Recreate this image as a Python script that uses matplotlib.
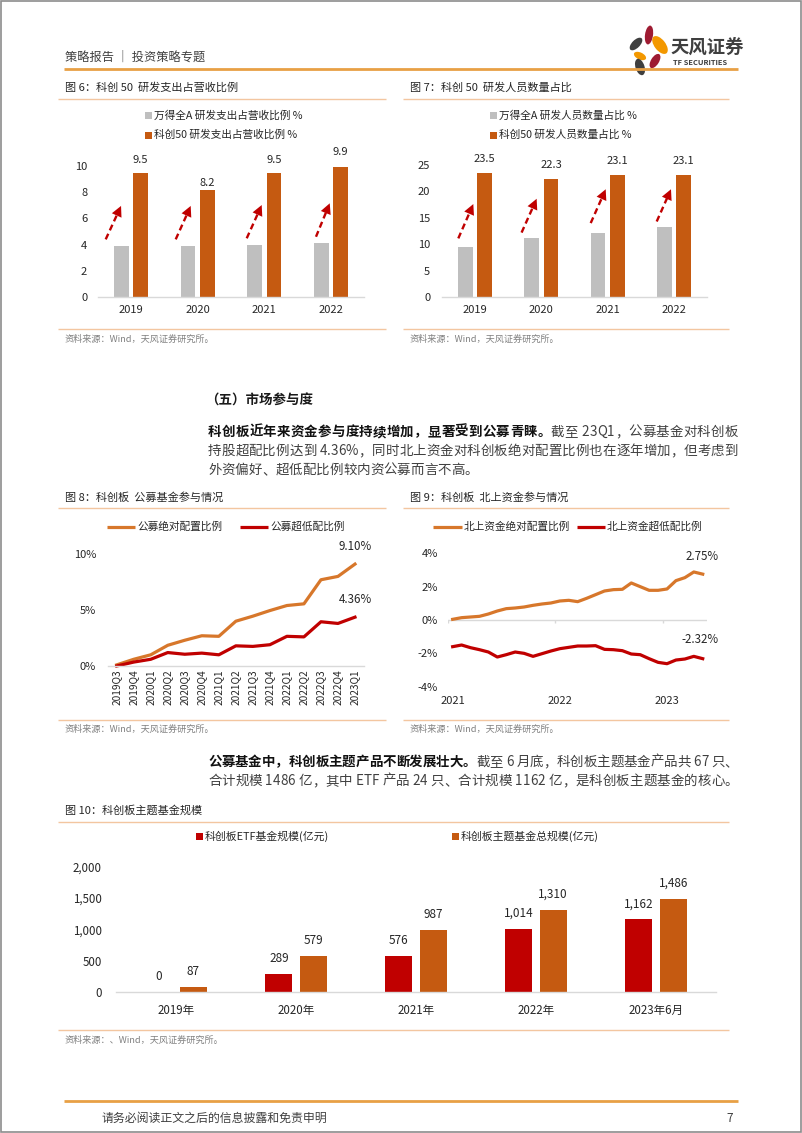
import matplotlib
matplotlib.use('Agg')
import matplotlib.pyplot as plt
from matplotlib.patches import Ellipse, Rectangle
import numpy as np

FAM = ['Noto Sans CJK SC', 'DejaVu Sans']
plt.rcParams['font.family'] = FAM

# ---------------- data ----------------
years = ['2019', '2020', '2021', '2022']
wind_rd_exp = [3.9, 3.9, 4.0, 4.1]
star50_rd_exp = [9.5, 8.2, 9.5, 9.9]
wind_rd_staff = [9.5, 11.1, 12.1, 13.2]
star50_rd_staff = [23.5, 22.3, 23.1, 23.1]

quarters = ['2019Q3', '2019Q4', '2020Q1', '2020Q2', '2020Q3', '2020Q4', '2021Q1', '2021Q2',
            '2021Q3', '2021Q4', '2022Q1', '2022Q2', '2022Q3', '2022Q4', '2023Q1']
fund_abs = [0.1, 0.6, 1.0, 1.85, 2.3, 2.7, 2.65, 4.0, 4.45, 4.95, 5.4, 5.55, 7.7, 8.0, 9.1]
fund_over = [0.0, 0.35, 0.6, 1.2, 1.05, 1.15, 1.0, 1.8, 1.75, 1.9, 2.65, 2.6, 3.95, 3.8, 4.36]

nb_years = ['2021', '2022', '2023']
nb_abs = [0.04, 0.14, 0.18, 0.22, 0.36, 0.54, 0.68, 0.72, 0.78, 0.88, 0.96, 1.02, 1.14, 1.18,
          1.10, 1.30, 1.52, 1.74, 1.82, 1.84, 2.22, 2.00, 1.78, 1.78, 1.86, 2.36, 2.54, 2.88, 2.75]
nb_over = [-1.60, -1.50, -1.66, -1.78, -1.92, -2.22, -2.08, -1.92, -2.00, -2.18, -2.02, -1.86,
           -1.72, -1.64, -1.56, -1.56, -1.54, -1.76, -1.78, -1.84, -2.04, -2.08, -2.32, -2.54,
           -2.62, -2.40, -2.34, -2.18, -2.32]

periods = ['2019年', '2020年', '2021年', '2022年', '2023年6月']
etf_size = [0, 289, 576, 1014, 1162]
theme_size = [87, 579, 987, 1310, 1486]

# ---------------- style ----------------
ORANGE = '#C55A11'
GRAY = '#BFBFBF'
RED = '#C00000'
LORANGE = '#D7772B'
AXC = '#D9D9D9'
RULE = '#F3C6A0'
TXT = '#262626'
SRC = '#808080'

W, H = 802, 1133
fig = plt.figure(figsize=(W / 100, H / 100), dpi=100)
bg = fig.add_axes([0, 0, 1, 1])
bg.set_xlim(0, W)
bg.set_ylim(H, 0)
bg.axis('off')


def pt(px):
    return px * 0.72


def axpx(l, t, r, b):
    ax = fig.add_axes([l / W, 1 - b / H, (r - l) / W, (b - t) / H])
    ax.set_facecolor('none')
    for s in ['top', 'right', 'left']:
        ax.spines[s].set_visible(False)
    ax.spines['bottom'].set_color(AXC)
    ax.spines['bottom'].set_linewidth(1.0)
    ax.tick_params(length=0, colors=TXT)
    return ax


def txt(x, y, s, size, color=TXT, weight='normal', ha='left', va='center'):
    return bg.text(x, y, s, fontsize=size, color=color, weight=weight, ha=ha, va=va)


def hline(y, x0, x1, color=RULE, lw=1.0):
    bg.plot([x0, x1], [y, y], color=color, lw=lw, solid_capstyle='butt')


renderer = fig.canvas.get_renderer()
_cache = {}


def adv(ch, size, wt):
    key = (ch, size, wt)
    if key not in _cache:
        t1 = bg.text(0, 0, '口' + ch + '口', fontsize=size, weight=wt)
        t2 = bg.text(0, 0, '口口', fontsize=size, weight=wt)
        w = t1.get_window_extent(renderer).width - t2.get_window_extent(renderer).width
        t1.remove()
        t2.remove()
        _cache[key] = w
    return _cache[key]


def para_line(x0, y, segs, size, width=None):
    items = []
    for s, wt, col in segs:
        for ch in s:
            items.append((ch, wt, col, adv(ch, size, wt)))
    total = sum(i[3] for i in items)
    extra = 0.0
    if width is not None and len(items) > 1:
        extra = (width - total) / (len(items) - 1)
    x = x0
    for ch, wt, col, w in items:
        if ch != ' ':
            bg.text(x, y, ch, fontsize=size, weight=wt, color=col, ha='left', va='center')
        x += w + extra


def legend_sq(x, y, color, label, size=7.7, s=7):
    bg.add_patch(Rectangle((x, y - s / 2), s, s, color=color, lw=0))
    txt(x + s + 2, y, label, size)


def legend_line(x0, x1, y, color, label, size=7.7):
    bg.plot([x0, x1], [y, y], color=color, lw=2.3, solid_capstyle='butt')
    txt(x1 + 2, y, label, size)


# ---------------- page frame ----------------
bg.add_patch(Rectangle((0.8, 0.8), W - 1.6, H - 1.6, fill=False, ec='#8c8c8c', lw=1.2))

# header
txt(65, 57, '策略报告 ｜ 投资策略专题', 8.8, color='#404040', weight='medium')
hline(68.5, 64, 738, color='#E8A045', lw=2.0)
# logo petals
petals = [((649, 35), 8, 19, 8, '#9E1B32'),
          ((660, 45), 11, 21, -38, '#F39800'),
          ((636, 44), 8, 16, 45, '#3F3F3F'),
          ((640, 56), 7, 13, -65, '#F39800'),
          ((655, 61), 8, 16, 32, '#9E1B32'),
          ((640, 67), 9, 17, -18, '#3F3F3F')]
for (cx, cy), w, h, ang, c in petals:
    bg.add_patch(Ellipse((cx, cy), w, h, angle=ang, color=c, lw=0))
txt(670, 47, '天风证券', 13.2, color='#3F3F3F', weight='bold')
txt(673, 62.5, 'TF SECURITIES', 5.4, color='#3F3F3F', weight='bold')

# figure titles and rules
txt(65, 88, '图 6：科创 50  研发支出占营收比例', 8)
txt(410, 88, '图 7：科创 50  研发人员数量占比', 8)
hline(98.5, 58, 386)
hline(98.5, 403, 729)

# ---------------- chart 6 ----------------
ax6 = axpx(97.7, 166, 364.4, 297)
x = np.arange(len(years))
ax6.bar(x - 0.145, wind_rd_exp, 0.22, color=GRAY)
ax6.bar(x + 0.145, star50_rd_exp, 0.22, color=ORANGE)
ax6.set_xlim(-0.5, 3.5)
ax6.set_ylim(0, 10)
ax6.set_yticks([0, 2, 4, 6, 8, 10])
ax6.set_xticks(x)
ax6.set_xticklabels(years)
ax6.tick_params(axis='y', pad=pt(10.5), labelsize=8)
ax6.tick_params(axis='x', pad=pt(8), labelsize=8)
offs6 = [13, 7, 13, 15]
for xi, v, dy in zip(x, star50_rd_exp, offs6):
    ax6.annotate(f'{v:.1f}', (xi + 0.145, v), xytext=(0, pt(dy)), textcoords='offset points',
                 ha='center', va='center', fontsize=8, color=TXT, annotation_clip=False)


def dashed_arrow(ax, start, end):
    sx, sy = start
    ex, ey = end
    mx, my = sx + 0.72 * (ex - sx), sy + 0.72 * (ey - sy)
    ax.plot([sx, mx], [sy, my], color=RED, lw=1.7, dashes=(2.6, 1.6), clip_on=False,
            solid_capstyle='butt', dash_capstyle='butt')
    hx, hy = sx + 0.6 * (ex - sx), sy + 0.6 * (ey - sy)
    ax.annotate('', xy=(ex, ey), xytext=(hx, hy), annotation_clip=False,
                arrowprops=dict(arrowstyle='-|>,head_length=0.75,head_width=0.38', color=RED,
                                lw=0.01, shrinkA=0, shrinkB=0, mutation_scale=10))


arrows6 = [((-0.38, 4.4), (-0.15, 6.95)), ((-0.33, 4.4), (-0.105, 6.95)),
           ((-0.265, 4.48), (-0.04, 7.02)), ((-0.226, 4.6), (-0.02, 7.15))]
for xi, (s, e) in zip(x, arrows6):
    dashed_arrow(ax6, (xi + s[0], s[1]), (xi + e[0], e[1]))

legend_sq(145, 115.5, GRAY, '万得全A 研发支出占营收比例 %')
legend_sq(145, 135, ORANGE, '科创50 研发支出占营收比例 %')

# ---------------- chart 7 ----------------
ax7 = axpx(441.7, 165, 707.3, 297)
ax7.bar(x - 0.145, wind_rd_staff, 0.22, color=GRAY)
ax7.bar(x + 0.145, star50_rd_staff, 0.22, color=ORANGE)
ax7.set_xlim(-0.5, 3.5)
ax7.set_ylim(0, 25)
ax7.set_yticks([0, 5, 10, 15, 20, 25])
ax7.set_xticks(x)
ax7.set_xticklabels(years)
ax7.tick_params(axis='y', pad=pt(11.5), labelsize=8)
ax7.tick_params(axis='x', pad=pt(8), labelsize=8)
for xi, v in zip(x, star50_rd_staff):
    ax7.annotate(f'{v:.1f}', (xi + 0.145, v), xytext=(0, pt(14)), textcoords='offset points',
                 ha='center', va='center', fontsize=8, color=TXT, annotation_clip=False)
arrows7 = [((-0.25, 11.1), (-0.024, 17.6)), ((-0.297, 12.2), (-0.07, 18.6)),
           ((-0.256, 14.0), (-0.03, 20.4)), ((-0.262, 14.3), (-0.047, 20.4))]
for xi, (s, e) in zip(x, arrows7):
    dashed_arrow(ax7, (xi + s[0], s[1]), (xi + e[0], e[1]))

legend_sq(490, 115.5, GRAY, '万得全A 研发人员数量占比 %')
legend_sq(490, 135, ORANGE, '科创50 研发人员数量占比 %')

hline(329, 58, 386)
hline(329, 403, 729)
txt(65, 339, '资料来源：Wind，天风证券研究所。', 6.6, color=SRC)
txt(410, 339, '资料来源：Wind，天风证券研究所。', 6.6, color=SRC)

# ---------------- text section ----------------
PS = 9.7
txt(205, 401, '（五）市场参与度', 9.7, color='#1a1a1a', weight='bold')
para_line(208, 432, [('科创板近年来资金参与度持续增加，显著受到公募青睐。', 'bold', '#111111'),
                     ('截至 23Q1，公募基金对科创板', 'normal', '#404040')], PS, width=530)
para_line(208, 451, [('持股超配比例达到 4.36%，同时北上资金对科创板绝对配置比例也在逐年增加，但考虑到',
                      'normal', '#404040')], PS, width=530)
para_line(208, 470, [('外资偏好、超低配比例较内资公募而言不高。', 'normal', '#404040')], PS)

txt(65, 497, '图 8：科创板  公募基金参与情况', 8)
txt(410, 497, '图 9：科创板  北上资金参与情况', 8)
hline(507.5, 58, 386)
hline(507.5, 403, 729)

# ---------------- chart 8 ----------------
ax8 = axpx(108.2, 554, 363.5, 666)
xq = np.arange(len(quarters))
ax8.plot(xq, fund_abs, color=LORANGE, lw=2.3, clip_on=False, solid_joinstyle='round')
ax8.plot(xq, fund_over, color=RED, lw=2.3, clip_on=False, solid_joinstyle='round')
ax8.set_xlim(-0.5, len(quarters) - 0.5)
ax8.set_ylim(0, 10)
ax8.set_yticks([0, 5, 10])
ax8.set_yticklabels(['0%', '5%', '10%'])
ax8.set_xticks(xq)
ax8.set_xticklabels(quarters, rotation=90)
ax8.tick_params(axis='y', pad=pt(12), labelsize=8)
ax8.tick_params(axis='x', pad=pt(3), labelsize=7.3)
ax8.annotate(f'{fund_abs[-1]:.2f}%', (xq[-1], fund_abs[-1]), xytext=(0, pt(18)),
             textcoords='offset points', ha='center', va='center', fontsize=8.3, color=TXT,
             annotation_clip=False)
ax8.annotate(f'{fund_over[-1]:.2f}%', (xq[-1], fund_over[-1]), xytext=(0, pt(18)),
             textcoords='offset points', ha='center', va='center', fontsize=8.3, color=TXT,
             annotation_clip=False)
legend_line(107, 135, 526.7, LORANGE, '公募绝对配置比例')
legend_line(240, 268, 526.7, RED, '公募超低配比例')

# ---------------- chart 9 ----------------
ax9 = axpx(448.2, 553.3, 707.2, 686.7)
ax9.spines['bottom'].set_visible(False)
xm = np.arange(len(nb_abs))
ax9.axhline(0, color=AXC, lw=1.0)
ax9.vlines([-0.5, 11.5, 23.5], -0.2, 0, color=AXC, lw=1.0)
ax9.plot(xm, nb_abs, color=LORANGE, lw=2.3, clip_on=False, solid_joinstyle='round')
ax9.plot(xm, nb_over, color=RED, lw=2.3, clip_on=False, solid_joinstyle='round')
ax9.set_xlim(-0.5, len(nb_abs) - 0.5)
ax9.set_ylim(-4, 4)
ax9.set_yticks([-4, -2, 0, 2, 4])
ax9.set_yticklabels(['-4%', '-2%', '0%', '2%', '4%'])
ax9.set_xticks([0, 12, 24])
ax9.set_xticklabels(nb_years)
ax9.tick_params(axis='y', pad=pt(10), labelsize=8)
ax9.tick_params(axis='x', pad=pt(9.5), labelsize=8)
ax9.annotate(f'{nb_abs[-1]:.2f}%', (xm[-1], nb_abs[-1]), xytext=(pt(-1), pt(18)),
             textcoords='offset points', ha='center', va='center', fontsize=8.3, color=TXT,
             annotation_clip=False)
ax9.annotate(f'{nb_over[-1]:.2f}%', (xm[-1], nb_over[-1]), xytext=(pt(-3), pt(18.7)),
             textcoords='offset points', ha='center', va='center', fontsize=8.3, color=TXT,
             annotation_clip=False)
legend_line(433, 461.5, 526.7, LORANGE, '北上资金绝对配置比例')
legend_line(577, 605, 526.7, RED, '北上资金超低配比例')

hline(719.5, 58, 386)
hline(719.5, 403, 729)
txt(65, 729, '资料来源：Wind，天风证券研究所。', 6.6, color=SRC)
txt(410, 729, '资料来源：Wind，天风证券研究所。', 6.6, color=SRC)

# ---------------- text 2 ----------------
para_line(208, 762, [('公募基金中，科创板主题产品不断发展壮大。', 'bold', '#111111'),
                     ('截至 6 月底，科创板主题基金产品共 67 只、', 'normal', '#404040')], PS, width=530)
para_line(208, 781, [('合计规模 1486 亿，其中 ETF 产品 24 只、合计规模 1162 亿，是科创板主题基金的核心。',
                      'normal', '#404040')], PS, width=530)

txt(65, 810, '图 10：科创板主题基金规模', 8)
hline(822, 58, 729)

# ---------------- chart 10 ----------------
ax10 = axpx(116, 866.7, 716, 992.3)
xp = np.arange(len(periods))
ax10.bar(xp - 0.143, etf_size, 0.223, color=RED)
ax10.bar(xp + 0.143, theme_size, 0.223, color=ORANGE)
ax10.set_xlim(-0.5, len(periods) - 0.5)
ax10.set_ylim(0, 2000)
ax10.set_yticks([0, 500, 1000, 1500, 2000])
ax10.set_yticklabels([f'{v:,}' for v in [0, 500, 1000, 1500, 2000]])
ax10.set_xticks(xp)
ax10.set_xticklabels(periods)
ax10.tick_params(axis='y', pad=pt(14), labelsize=8.3)
ax10.tick_params(axis='x', pad=pt(11.5), labelsize=8.3)
for xi, v in zip(xp, etf_size):
    ax10.annotate(f'{v:,}', (xi - 0.143, v), xytext=(0, pt(15.5)), textcoords='offset points',
                  ha='center', va='center', fontsize=8.5, color=TXT, annotation_clip=False)
for xi, v in zip(xp, theme_size):
    ax10.annotate(f'{v:,}', (xi + 0.143, v), xytext=(0, pt(15.5)), textcoords='offset points',
                  ha='center', va='center', fontsize=8.5, color=TXT, annotation_clip=False)
legend_sq(196, 836, RED, '科创板ETF基金规模(亿元)', size=7.8)
legend_sq(452, 836, ORANGE, '科创板主题基金总规模(亿元)', size=7.8)

hline(1029.5, 58, 729)
txt(65, 1040, '资料来源：、Wind，天风证券研究所。', 6.6, color=SRC)

# ---------------- footer ----------------
hline(1100.5, 64, 738, color='#E8A045', lw=2.0)
txt(102, 1118, '请务必阅读正文之后的信息披露和免责申明', 8.6, color='#404040')
txt(733, 1118, '7', 8.6, color='#404040', ha='right')

fig.savefig('out.png', dpi=100)
